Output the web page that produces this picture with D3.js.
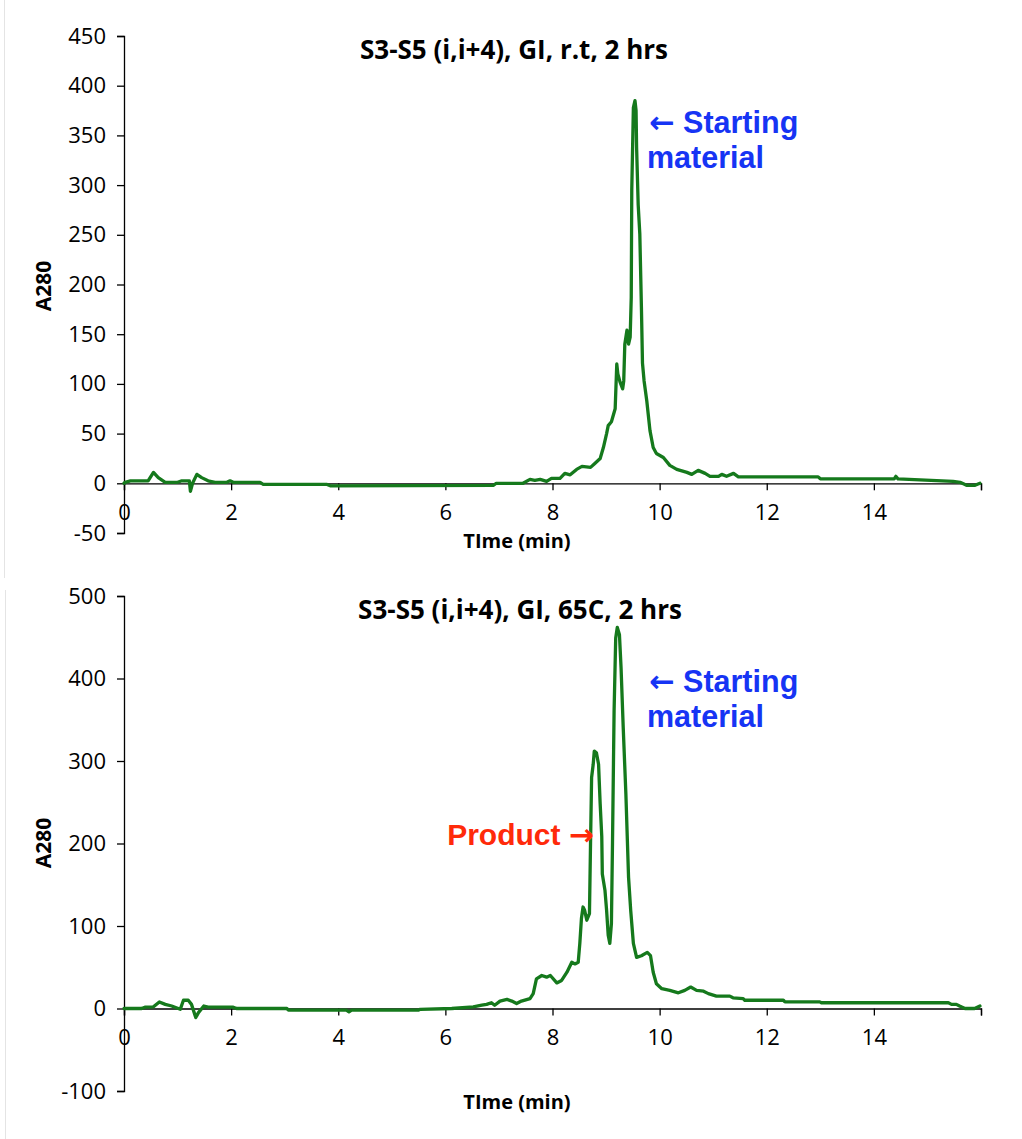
<!DOCTYPE html>
<html>
<head>
<meta charset="utf-8">
<script src="https://cdn.jsdelivr.net/npm/d3@7"></script>
<style>
  html, body { margin: 0; padding: 0; background: #fff; }
  svg { display: block; }
</style>
</head>
<body>
<svg id="chart" width="1022" height="1139"></svg>
<script>
// ---------------- DATA ----------------
const xTicks = [0, 2, 4, 6, 8, 10, 12, 14, 16];
const xTickLabels = ["0", "2", "4", "6", "8", "10", "12", "14", ""];
const topYTicks = [-50, 0, 50, 100, 150, 200, 250, 300, 350, 400, 450];
const bottomYTicks = [-100, 0, 100, 200, 300, 400, 500];

const topTitle = "S3-S5 (i,i+4), GI, r.t, 2 hrs";
const bottomTitle = "S3-S5 (i,i+4), GI, 65C, 2 hrs";
const xTitle = "TIme (min)";
const yTitle = "A280";

// Top chromatogram (room temperature)
const topTime = [0.00, 0.02, 0.12, 0.45, 0.55, 0.64, 0.77, 1.00, 1.08, 1.22, 1.24, 1.28, 1.36, 1.45, 1.57, 1.70, 1.92, 1.98, 2.04, 2.54, 2.60, 3.78, 3.85, 6.90, 6.95, 7.45, 7.58, 7.67, 7.77, 7.89, 7.98, 8.14, 8.23, 8.33, 8.45, 8.55, 8.71, 8.79, 8.89, 8.95, 9.01, 9.04, 9.10, 9.17, 9.20, 9.22, 9.26, 9.31, 9.33, 9.35, 9.39, 9.42, 9.45, 9.47, 9.48, 9.51, 9.54, 9.56, 9.57, 9.60, 9.63, 9.66, 9.68, 9.71, 9.76, 9.82, 9.88, 9.94, 10.07, 10.19, 10.32, 10.51, 10.60, 10.69, 10.72, 10.85, 10.94, 11.10, 11.16, 11.25, 11.38, 11.47, 12.96, 13.00, 14.38, 14.41, 14.45, 15.48, 15.61, 15.73, 15.89, 15.98];
const topA280 = [0, 1, 2.5, 2.5, 11, 5.7, 1, 1, 2.5, 2.5, -8, 0, 9, 5.7, 2.5, 1, 1, 2.5, 1, 1, -1, -1, -2.5, -2, 0, 0, 4, 3, 4, 2, 5, 5, 10, 8.5, 14, 17, 16, 20, 25, 36, 50, 58, 62, 75, 120, 110, 102, 95, 103, 140, 154, 140, 147, 187, 295, 378, 385, 375, 338, 280, 251, 177, 121, 103, 83, 53, 36, 30, 26, 18, 14, 11, 9, 12, 13, 10, 7, 7, 9, 7, 10, 6.5, 6.5, 4.5, 4.5, 7, 4.5, 2, 1, -2, -2, 0];

// Bottom chromatogram (65C)
const bottomTime = [0.00, 0.33, 0.39, 0.55, 0.66, 0.77, 0.89, 1.05, 1.11, 1.20, 1.26, 1.34, 1.39, 1.49, 1.57, 2.04, 2.10, 3.04, 3.07, 4.15, 4.20, 4.25, 5.50, 5.53, 6.12, 6.52, 6.68, 6.77, 6.86, 6.92, 7.02, 7.15, 7.24, 7.33, 7.42, 7.58, 7.64, 7.70, 7.80, 7.89, 7.96, 8.08, 8.17, 8.27, 8.36, 8.42, 8.48, 8.51, 8.54, 8.57, 8.60, 8.64, 8.69, 8.71, 8.73, 8.76, 8.78, 8.82, 8.86, 8.89, 8.92, 8.93, 8.98, 9.01, 9.04, 9.07, 9.10, 9.12, 9.15, 9.18, 9.21, 9.25, 9.28, 9.32, 9.37, 9.42, 9.46, 9.51, 9.57, 9.66, 9.77, 9.83, 9.88, 9.94, 10.04, 10.19, 10.35, 10.47, 10.58, 10.69, 10.82, 10.91, 11.06, 11.31, 11.37, 11.56, 11.59, 12.31, 12.34, 12.99, 13.02, 15.39, 15.45, 15.54, 15.60, 15.70, 15.88, 15.98];
const bottomA280 = [0, 0, 1.6, 2, 8, 5, 3, -1, 10, 10, 5, -11, -5, 3, 1.6, 1.6, 0, 0, -2, -2, -4, -2, -2, -1, 0, 2, 4, 5, 7, 4, 9, 11, 9, 6, 9, 12, 18, 36, 40, 38, 40, 31, 34, 44, 56, 54, 56, 79, 109, 123, 119, 107, 115, 200, 280, 296, 312, 310, 296, 248, 208, 163, 143, 119, 89, 79, 103, 200, 361, 449, 462, 453, 413, 341, 260, 159, 119, 79, 62, 64, 68, 64, 44, 30, 24, 22, 19, 22, 26, 22, 21, 18, 15, 15, 13, 12, 10, 10, 8, 8, 7, 7, 5, 5, 3, 0, 0, 3];

// ---------------- DRAWING ----------------
const svg = d3.select("#chart");
const tickFont = "'Open Sans', 'Liberation Sans', sans-serif";
const lineColor = "#15791c";

// faint frame edges seen in the reference
svg.append("line").attr("x1", 4.5).attr("x2", 4.5).attr("y1", 0).attr("y2", 578)
  .attr("stroke", "#e4e4e4").attr("stroke-width", 1);
svg.append("line").attr("x1", 5.5).attr("x2", 5.5).attr("y1", 590).attr("y2", 1139)
  .attr("stroke", "#e4e4e4").attr("stroke-width", 1);

function drawPanel(cfg) {
  const g = svg.append("g");
  const x = d3.scaleLinear().domain([0, 16]).range([124, 981]);
  const y = d3.scaleLinear().domain(cfg.yDomain).range(cfg.yRange);

  // y axis
  const yAxis = d3.axisLeft(y).tickValues(cfg.yTicks).tickSize(7).tickPadding(11)
    .tickFormat(d => String(d));
  const ya = g.append("g").attr("transform", "translate(124,0)").call(yAxis);
  ya.select(".domain").attr("stroke", "#000").attr("stroke-width", 1.3);
  ya.selectAll(".tick line").attr("stroke", "#000").attr("stroke-width", 1.3);
  ya.selectAll("text").attr("font-family", tickFont).attr("font-size", 22).attr("fill", "#000");

  // x axis at y = 0
  const xAxis = d3.axisBottom(x).tickValues(xTicks).tickSize(7).tickPadding(14)
    .tickFormat((d, i) => xTickLabels[i]);
  const xa = g.append("g").attr("transform", `translate(0,${y(0)})`).call(xAxis);
  xa.select(".domain").attr("stroke", "#000").attr("stroke-width", 1.3);
  xa.selectAll(".tick line").attr("stroke", "#000").attr("stroke-width", 1.3);
  xa.selectAll("text").attr("font-family", tickFont).attr("font-size", 22).attr("fill", "#000");

  // trace
  const pts = cfg.time.map((t, i) => [t, cfg.values[i]]);
  const line = d3.line().x(d => x(d[0])).y(d => y(d[1]));
  g.append("path").datum(pts).attr("d", line)
    .attr("fill", "none").attr("stroke", lineColor).attr("stroke-width", 3.3)
    .attr("stroke-linejoin", "round").attr("stroke-linecap", "round");

  // title
  g.append("text").attr("x", cfg.titleX).attr("y", cfg.titleY).attr("text-anchor", "middle")
    .attr("font-family", tickFont).attr("font-weight", "bold").attr("font-size", 26)
    .attr("fill", "#000").text(cfg.title);

  // x title
  g.append("text").attr("x", 517).attr("y", cfg.xTitleY).attr("text-anchor", "middle")
    .attr("font-family", tickFont).attr("font-weight", "bold").attr("font-size", 20)
    .attr("fill", "#000").text(xTitle);

  // y title
  g.append("text").attr("transform", `translate(51,${cfg.yTitleY}) rotate(-90)`)
    .attr("text-anchor", "middle")
    .attr("font-family", tickFont).attr("font-weight", "bold").attr("font-size", 21)
    .attr("fill", "#000").text(yTitle);

  return { x, y, g };
}

const topPanel = drawPanel({
  yDomain: [-50, 450], yRange: [533, 36], yTicks: topYTicks,
  time: topTime, values: topA280,
  title: topTitle, titleX: 514, titleY: 59, xTitleY: 548, yTitleY: 286
});
const bottomPanel = drawPanel({
  yDomain: [-100, 500], yRange: [1091, 596], yTicks: bottomYTicks,
  time: bottomTime, values: bottomA280,
  title: bottomTitle, titleX: 520, titleY: 619, xTitleY: 1109, yTitleY: 843
});

// annotations
const annFont = "'Liberation Sans', Arial, sans-serif";
const arrowFont = "'DejaVu Sans', sans-serif";
const blue = "#1634f4";
const red = "#ff2a0a";

function startingLabel(panel, baseY) {
  const t = panel.g.append("text").attr("x", 649).attr("y", baseY)
    .attr("font-family", annFont).attr("font-weight", "bold").attr("font-size", 30.5)
    .attr("fill", blue);
  t.append("tspan").attr("font-family", arrowFont).attr("font-weight", "bold").text("\u2190");
  t.append("tspan").text(" Starting");
  panel.g.append("text").attr("x", 647).attr("y", baseY + 35)
    .attr("font-family", annFont).attr("font-weight", "bold").attr("font-size", 30.5)
    .attr("fill", blue).text("material");
}
startingLabel(topPanel, 133);
startingLabel(bottomPanel, 692);

const prod = bottomPanel.g.append("text").attr("x", 594).attr("y", 845).attr("text-anchor", "end")
  .attr("font-family", annFont).attr("font-weight", "bold").attr("font-size", 30)
  .attr("fill", red);
prod.append("tspan").text("Product ");
prod.append("tspan").attr("font-family", arrowFont).attr("font-weight", "bold").text("\u2192");
</script>
</body>
</html>
